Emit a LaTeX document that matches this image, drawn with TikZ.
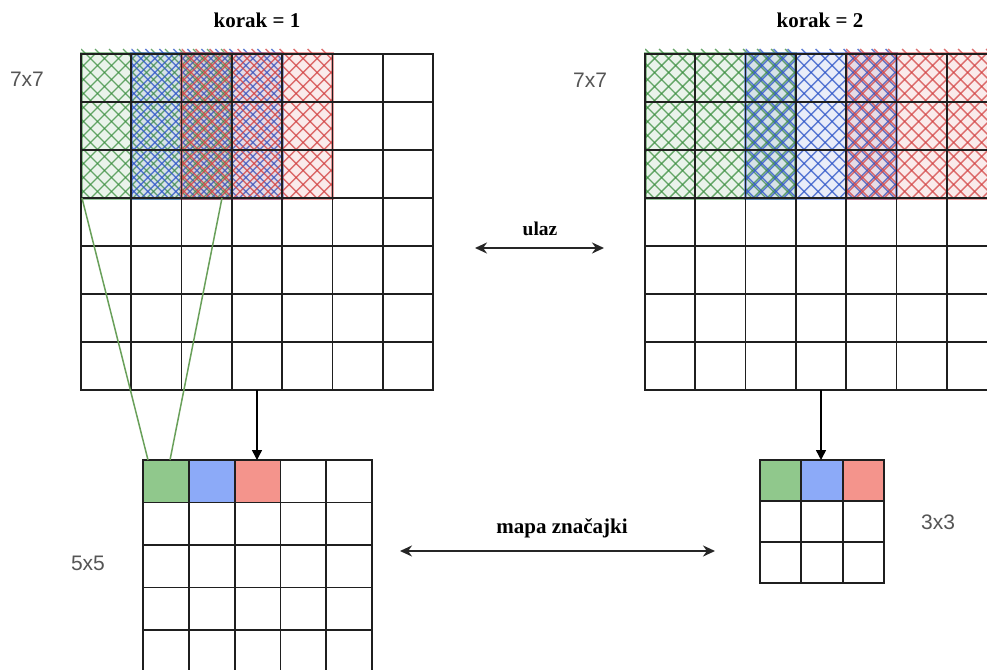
\documentclass[tikz,border=0pt]{standalone}
\usepackage{fontspec}
\setmainfont{Liberation Serif}
\newfontfamily\arialf{Liberation Sans}
\usetikzlibrary{arrows.meta}
\definecolor{hgreen}{RGB}{55,140,60}
\definecolor{hblue}{RGB}{45,85,200}
\definecolor{hred}{RGB}{210,65,65}
\definecolor{fgreen}{RGB}{144,200,140}
\definecolor{fblue}{RGB}{140,170,248}
\definecolor{fred}{RGB}{244,148,140}
\definecolor{lblgray}{RGB}{85,85,85}
\definecolor{linkgreen}{RGB}{105,160,90}

\newcommand\hatchwin[5]{%
  \fill[#5, opacity=0.10] (#1,#2) rectangle (#3,#4);
  \begin{scope}
    \clip (#1,{#2-5}) rectangle (#3,#4);
    \foreach \k in {-168,-154,...,322} {
      \draw[#5, line width=1.4pt, opacity=0.75] ({#1+(\k)},{#2-5}) -- ++(170,170);
    }
  \end{scope}
  \begin{scope}
    \clip (#1,#2) rectangle (#3,#4);
    \foreach \k in {-168,-154,...,322} {
      \draw[#5, line width=1.4pt, opacity=0.75] ({#1+(\k)},#2) -- ++(-170,170);
    }
  \end{scope}
  \draw[#5, line width=3pt, opacity=0.5] (#1,#2) rectangle (#3,#4);
}

% grid: x0, y0, dx, dy, ncols, nrows
\newcommand\mygrid[6]{%
  \foreach \i in {0,...,#5} {
    \draw[gridline] ({#1+\i*#3},#2) -- ({#1+\i*#3},{#2+#6*#4});
  }
  \foreach \j in {0,...,#6} {
    \draw[gridline] (#1,{#2+\j*#4}) -- ({#1+#5*#3},{#2+\j*#4});
  }
}

\tikzset{
  gridline/.style={line width=1.8pt, black!88, line cap=rect},
  titletext/.style={font=\fontsize{21}{24}\selectfont\bfseries, text=black},
  smalltitle/.style={font=\fontsize{19.5}{23}\selectfont\bfseries, text=black},
  sizetext/.style={font=\arialf\fontsize{21}{25}\selectfont, text=lblgray},
  downarrow/.style={line width=1.5pt, black, -{Triangle[length=10pt,width=10pt]}},
  bothways/.style={line width=2pt, black!85, {Stealth[length=12pt,width=11pt]}-{Stealth[length=12pt,width=11pt]}},
  linkline/.style={line width=1.5pt, linkgreen},
}

\begin{document}
\begin{tikzpicture}[x=1pt,y=-1pt]
\useasboundingbox (0,0) rectangle (987,669);
\clip (0,0) rectangle (987,669);
\fill[white] (0,0) rectangle (987,669);

% ---------- left input (stride 1) ----------
\hatchwin{81}{54}{231.9}{198}{hgreen}
\hatchwin{131.3}{54}{282.1}{198}{hblue}
\hatchwin{181.6}{54}{332.4}{198}{hred}
\mygrid{81}{54}{50.286}{48}{7}{7}

% ---------- right input (stride 2) ----------
\hatchwin{645}{54}{795.9}{198}{hgreen}
\hatchwin{745.6}{54}{896.4}{198}{hblue}
\hatchwin{846.2}{54}{997}{198}{hred}
\mygrid{645}{54}{50.286}{48}{7}{7}

% ---------- left feature map 5x5 ----------
\fill[fgreen] (143,460) rectangle (188.8,502.5);
\fill[fblue] (188.8,460) rectangle (234.6,502.5);
\fill[fred] (234.6,460) rectangle (280.4,502.5);
\mygrid{143}{460}{45.8}{42.5}{5}{5}

% ---------- right feature map 3x3 ----------
\fill[fgreen] (760,460) rectangle (801.3,501);
\fill[fblue] (801.3,460) rectangle (842.7,501);
\fill[fred] (842.7,460) rectangle (884,501);
\mygrid{760}{460}{41.33}{41}{3}{3}

% ---------- receptive field lines ----------
\coordinate (wl) at (82,198);
\coordinate (wr) at (222,198);
\coordinate (cl) at (148,460);
\coordinate (cr) at (170,460);
\draw[linkline] (wl) -- (cl);
\draw[linkline] (wr) -- (cr);

% ---------- down arrows ----------
\coordinate (in1) at (257,390);
\coordinate (out1) at (257,460);
\coordinate (in2) at (821,390);
\coordinate (out2) at (821,460);
\draw[downarrow] (in1) -- (out1);
\draw[downarrow] (in2) -- (out2);

% ---------- labels ----------
\node[titletext] (t1) at (257,20) {korak = 1};
\node[titletext] (t2) at (820,20) {korak = 2};
\node[sizetext] (s1) at (27,79) {7x7};
\node[sizetext] (s2) at (590,80) {7x7};
\node[sizetext] (s3) at (88,563) {5x5};
\node[sizetext] (s4) at (938,522) {3x3};

\node[smalltitle] (ulaz) at (540,229) {ulaz};
\coordinate (ua) at (475,248);
\coordinate (ub) at (604,248);
\draw[bothways] (ua) -- (ub);

\node[titletext] (mapa) at (562,528) {mapa značajki};
\coordinate (ma) at (400,551);
\coordinate (mb) at (715,551);
\draw[bothways] (ma) -- (mb);
\end{tikzpicture}
\end{document}
